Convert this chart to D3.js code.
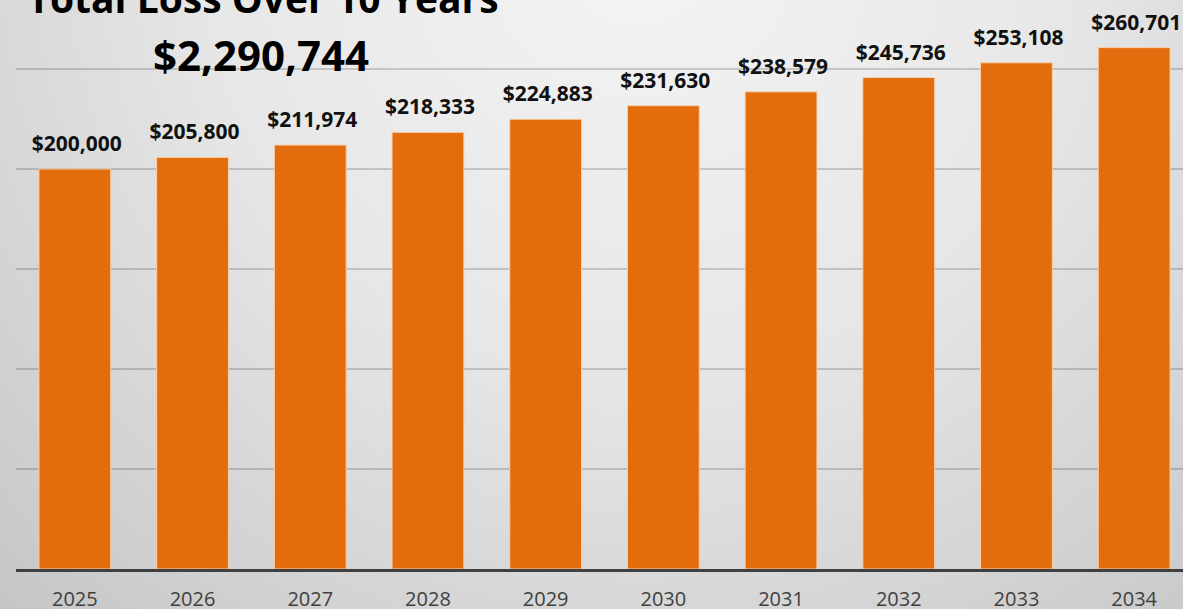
<!DOCTYPE html>
<html lang="en">
<head>
  <meta charset="UTF-8">
  <title>Total Loss Over 10 Years</title>
  <script src="https://d3js.org/d3.v7.min.js"></script>
  <style>
    html, body { margin: 0; padding: 0; overflow: hidden; }
    body { width: 1183px; height: 609px; font-family: "Open Sans", sans-serif; }
  </style>
</head>
<body>
  <script>
    // Data
    const years = ['2025', '2026', '2027', '2028', '2029', '2030', '2031', '2032', '2033', '2034'];
    const losses = [200000, 205800, 211974, 218333, 224883, 231630, 238579, 245736, 253108, 260701];
    const gridTicks = [50000, 100000, 150000, 200000, 250000];
    const chartTitle = 'Total Loss Over 10 Years';
    const totalLabel = '$2,290,744';

    const width = 1183;
    const height = 609;
    const margin = { left: 16, right: -10, top: 0, baseline: 569 };

    const svg = d3.select('body')
      .append('svg')
      .attr('width', width)
      .attr('height', height);

    // background gradient
    const defs = svg.append('defs');
    const grad = defs.append('radialGradient')
      .attr('id', 'bg')
      .attr('gradientUnits', 'userSpaceOnUse')
      .attr('cx', 640).attr('cy', -60)
      .attr('r', 950);
    grad.append('stop').attr('offset', '0%').attr('stop-color', '#f4f4f4');
    grad.append('stop').attr('offset', '45%').attr('stop-color', '#e7e7e7');
    grad.append('stop').attr('offset', '100%').attr('stop-color', '#c4c4c4');

    svg.append('rect')
      .attr('width', width)
      .attr('height', height)
      .attr('fill', 'url(#bg)');

    const x = d3.scaleBand()
      .domain(years)
      .range([margin.left, width - margin.right])
      .paddingInner(0.39)
      .paddingOuter(0.195);

    const y = d3.scaleLinear()
      .domain([0, 250000])
      .range([margin.baseline, margin.baseline - 500]);

    // gridlines
    svg.append('g')
      .selectAll('line')
      .data(gridTicks)
      .join('line')
      .attr('x1', margin.left)
      .attr('x2', width)
      .attr('y1', d => y(d))
      .attr('y2', d => y(d))
      .attr('stroke', 'rgba(0,0,0,0.22)')
      .attr('stroke-width', 1.5);

    // bars
    svg.append('g')
      .selectAll('rect')
      .data(losses)
      .join('rect')
      .attr('x', (d, i) => x(years[i]))
      .attr('y', d => y(d))
      .attr('width', x.bandwidth())
      .attr('height', d => y(0) - y(d))
      .attr('fill', '#e36c0c')
      .attr('stroke', '#f6cfae')
      .attr('stroke-width', 1);

    // value labels
    const fmt = d3.format('$,');
    svg.append('g')
      .selectAll('text')
      .data(losses)
      .join('text')
      .attr('x', (d, i) => x(years[i]) + x.bandwidth() / 2 + 2)
      .attr('y', d => y(d) - 18)
      .attr('text-anchor', 'middle')
      .style('font-size', '21px')
      .style('font-weight', 700)
      .style('fill', '#111')
      .text(d => fmt(d));

    // axis baseline
    const xAxis = svg.append('g')
      .attr('transform', `translate(0,${y(0) + 1.5})`)
      .call(d3.axisBottom(x).tickSize(0).tickPadding(21));
    xAxis.select('.domain')
      .attr('d', `M${margin.left},0H${width}`)
      .attr('stroke', '#404040')
      .attr('stroke-width', 3);
    xAxis.selectAll('text')
      .style('font-family', '"Open Sans", sans-serif')
      .style('font-size', '20px')
      .style('fill', '#404040');

    // titles
    svg.append('text')
      .attr('x', 263)
      .attr('y', 13)
      .attr('text-anchor', 'middle')
      .style('font-size', '39px')
      .style('font-weight', 700)
      .style('fill', '#000')
      .text(chartTitle);

    svg.append('text')
      .attr('x', 261)
      .attr('y', 71)
      .attr('text-anchor', 'middle')
      .style('font-size', '42px')
      .style('font-weight', 700)
      .style('fill', '#000')
      .text(totalLabel);
  </script>
</body>
</html>
